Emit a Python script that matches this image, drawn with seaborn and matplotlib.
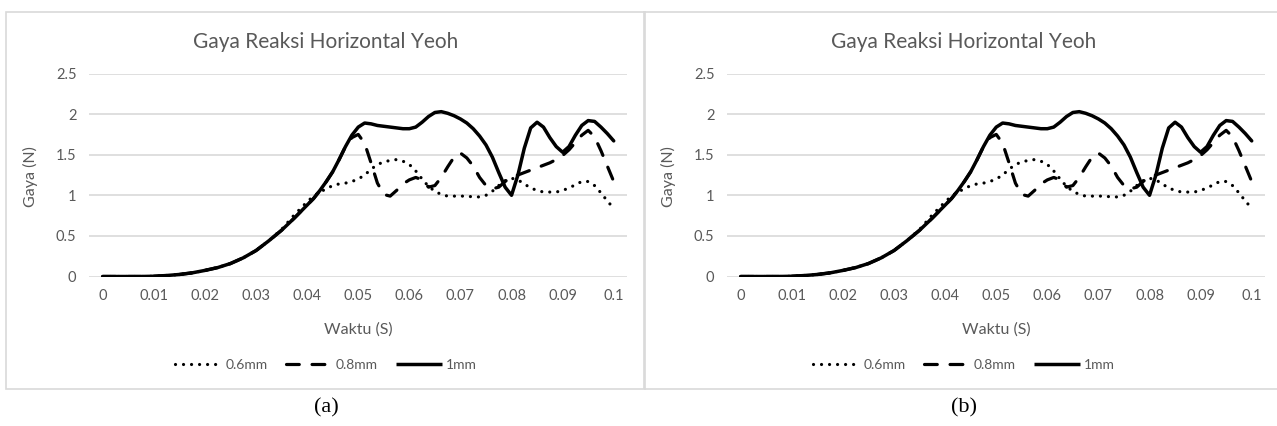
import numpy as np
import pandas as pd
import matplotlib.pyplot as plt
import seaborn as sns
from matplotlib.patches import Rectangle
from matplotlib.lines import Line2D

# time axis (s): coarse on the shared rise, finer where the curves split
waktu = [0.0, 0.0025, 0.005, 0.0075, 0.01, 0.0125, 0.015, 0.0175, 0.02, 0.0225,
         0.025, 0.0275, 0.03, 0.0325, 0.035, 0.0375,
         0.04, 0.04125, 0.0425, 0.04375, 0.045, 0.04625, 0.0475, 0.04875,
         0.05, 0.05125, 0.0525, 0.05375, 0.055, 0.05625, 0.0575, 0.05875,
         0.06, 0.06125, 0.0625, 0.06375, 0.065, 0.06625, 0.0675, 0.06875,
         0.07, 0.07125, 0.0725, 0.07375, 0.075, 0.07625, 0.0775, 0.07875,
         0.08, 0.08125, 0.0825, 0.08375, 0.085, 0.08625, 0.0875, 0.08875,
         0.09, 0.09125, 0.0925, 0.09375, 0.095, 0.09625, 0.0975, 0.09875,
         0.1]

gaya_06 = [0.0, 0.0, 0.0, 0.0, 0.003, 0.012, 0.025, 0.045, 0.075, 0.11,
           0.16, 0.23, 0.32, 0.44, 0.58, 0.76,
           0.92, 0.99, 1.04, 1.08, 1.12, 1.14, 1.15, 1.17,
           1.20, 1.25, 1.32, 1.38, 1.41, 1.43, 1.44, 1.42,
           1.38, 1.30, 1.20, 1.11, 1.05, 1.01, 0.99, 0.99,
           0.99, 0.99, 0.98, 0.98, 1.00, 1.05, 1.12, 1.18,
           1.21, 1.19, 1.14, 1.09, 1.06, 1.04, 1.04, 1.04,
           1.06, 1.09, 1.13, 1.17, 1.17, 1.12, 1.03, 0.93,
           0.84]

gaya_08 = [0.0, 0.0, 0.0, 0.0, 0.003, 0.012, 0.025, 0.045, 0.075, 0.11,
           0.16, 0.23, 0.32, 0.44, 0.57, 0.72,
           0.88, 0.96, 1.06, 1.17, 1.29, 1.44, 1.60, 1.71,
           1.75, 1.64, 1.40, 1.15, 1.01, 0.99, 1.06, 1.14,
           1.19, 1.22, 1.19, 1.10, 1.12, 1.22, 1.35, 1.47,
           1.52, 1.46, 1.36, 1.22, 1.12, 1.08, 1.10, 1.17,
           1.23, 1.25, 1.28, 1.31, 1.34, 1.37, 1.40, 1.44,
           1.49, 1.56, 1.65, 1.74, 1.80, 1.72, 1.55, 1.36,
           1.17]

gaya_1 = [0.0, 0.0, 0.0, 0.0, 0.003, 0.012, 0.025, 0.045, 0.075, 0.11,
          0.16, 0.23, 0.32, 0.44, 0.57, 0.72,
          0.88, 0.96, 1.06, 1.17, 1.29, 1.44, 1.60, 1.74,
          1.84, 1.89, 1.88, 1.86, 1.85, 1.84, 1.83, 1.82,
          1.82, 1.84, 1.90, 1.97, 2.02, 2.03, 2.01, 1.98,
          1.94, 1.89, 1.82, 1.73, 1.62, 1.47, 1.28, 1.10,
          1.00, 1.25, 1.58, 1.83, 1.90, 1.84, 1.71, 1.60,
          1.53, 1.60, 1.74, 1.86, 1.92, 1.91, 1.84, 1.76,
          1.67]

labels = ["0.6mm", "0.8mm", "1mm"]
panels = ["(a)", "(b)"]

W, H = 1277, 426
GREY = "#595959"
GRID = "#d9d9d9"

sns.set_style("white")
plt.rcParams["font.family"] = ["Lato", "DejaVu Sans"]

n = len(waktu)
df = pd.DataFrame({
    "Waktu": waktu * 3,
    "Gaya": gaya_06 + gaya_08 + gaya_1,
    "Tebal": [labels[0]] * n + [labels[1]] * n + [labels[2]] * n,
})

styles = {
    "0.6mm": dict(dashes=(0.01, 2.5), lw=2.3),
    "0.8mm": dict(dashes=(4, 4), lw=2.3),
    "1mm": dict(dashes=None, lw=2.5),
}

fig = plt.figure(figsize=(W / 100, H / 100), dpi=100)

for shift, tag in zip([0, 638], panels):
    # light frame around each chart, like the spreadsheet chart area
    fig.patches.append(Rectangle(((6 + shift) / W, 1 - 389 / H), 639 / W, 377 / H,
                                 transform=fig.transFigure, fill=False,
                                 edgecolor=GRID, lw=1.2))
    ax = fig.add_axes([(89 + shift) / W, 1 - 276.5 / H, 538 / W, 203 / H])
    handles = []
    for lab in labels:
        sub = df[df["Tebal"] == lab]
        sns.lineplot(data=sub, x="Waktu", y="Gaya", ax=ax, color="black",
                     lw=styles[lab]["lw"], solid_capstyle="round",
                     solid_joinstyle="round")
        line = ax.lines[-1]
        h = Line2D([], [], color="black", lw=styles[lab]["lw"],
                   solid_capstyle="butt")
        if styles[lab]["dashes"] is not None:
            line.set_dashes(styles[lab]["dashes"])
            line.set_dash_capstyle("round")
            h.set_dashes(styles[lab]["dashes"])
            h.set_dash_capstyle("round")
        handles.append(h)

    ax.set_xlim(-0.0027, 0.1026)
    ax.set_ylim(0, 2.5)
    ticks = np.round(np.arange(0, 0.1001, 0.01), 2)
    ax.set_xticks(ticks)
    ax.set_xticklabels([f"{v:g}" for v in ticks])
    ax.set_yticks([0, 0.5, 1, 1.5, 2, 2.5])
    ax.set_yticklabels(["0", "0.5", "1", "1.5", "2", "2.5"])
    ax.grid(axis="y", color=GRID, lw=1.2)
    ax.set_axisbelow(True)
    for s in ax.spines.values():
        s.set_visible(False)
    ax.tick_params(length=0, labelsize=10.5, labelcolor=GREY, pad=9)
    ax.set_xlabel("Waktu (S)", fontsize=11.5, color=GREY)
    ax.set_ylabel("Gaya (N)", fontsize=11.5, color=GREY)
    ax.xaxis.set_label_coords(0.5, -0.224)
    ax.yaxis.set_label_coords(-0.095, 0.49)

    cx = (326 + shift) / W
    fig.text(cx, 1 - 42 / H, "Gaya Reaksi Horizontal Yeoh", ha="center",
             va="center", fontsize=15, color=GREY)
    fig.legend(handles, labels, loc="center", bbox_to_anchor=(cx, 1 - 365 / H),
               ncol=3, frameon=False, fontsize=10, labelcolor=GREY,
               handlelength=3.3, handletextpad=0.3, columnspacing=1.3)
    fig.text(cx, 1 - 408 / H, tag, ha="center", va="center", fontsize=16,
             family="Liberation Serif", color="black")

fig.savefig("out.png", dpi=100)
